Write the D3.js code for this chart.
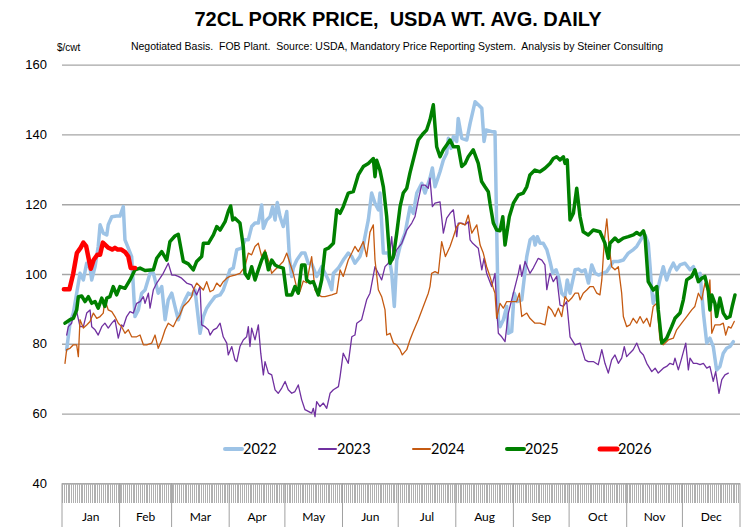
<!DOCTYPE html>
<html>
<head>
<meta charset="utf-8">
<script src="https://cdn.jsdelivr.net/npm/d3@7"></script>
<style>
  html, body { margin: 0; padding: 0; background: #fff; }
  svg { display: block; }
</style>
</head>
<body>
<div id="chart"></div>
<script>
// data: [day of year, $/cwt]
const months = ["Jan", "Feb", "Mar", "Apr", "May", "Jun", "Jul", "Aug", "Sep", "Oct", "Nov", "Dec"];
const monthStarts = [0, 31, 59, 90, 120, 151, 181, 212, 243, 273, 304, 334, 365];
const yTicks = [40, 60, 80, 100, 120, 140, 160];
const years = ["2022", "2023", "2024", "2025", "2026"];

const s2022 = [[2.5,78.3],[4.3,85.9],[6.1,88.8],[7.9,94.5],[9.7,100.2],[11.5,98.3],[13.3,103.1],[15.1,101.7],[16,98.3],[17.8,102.1],[19.5,107.9],[20.5,114.1],[22.2,111.7],[24.1,111.2],[24.9,114.1],[26.8,116.4],[29.4,116.6],[31.2,116.6],[33,119.3],[33.9,109.8],[35.7,107.4],[37.5,105],[39.3,87.8],[41.1,89.7],[42.9,94.5],[44.7,95.4],[47.4,100.2],[49.2,100.2],[50.1,98.3],[51.8,94.5],[53.7,96.4],[55.5,86.9],[57.2,92.6],[59.1,94.5],[60.8,90.7],[62.6,86.9],[64.4,90.2],[66.2,92.6],[68,94.5],[69.8,94],[71.6,95.4],[74.3,83],[76.1,87.8],[77.9,90.2],[79.7,91.6],[82.4,93.5],[85.1,94],[86.8,95.4],[88.7,98.3],[90.4,101.2],[92.2,101.7],[94.1,107],[96.8,107.4],[98.5,109.8],[100.3,109.8],[102.1,113.6],[103.9,114.6],[105.7,114.6],[107.5,119.8],[108.4,113.1],[110.2,115.5],[112,116.4],[113.4,119.3],[114.7,115.5],[115.9,120.5],[117.4,116.4],[119.1,113.6],[121,117.9],[122.4,105],[123.7,99.3],[124.5,101.7],[126.4,104],[129,106],[130.8,106],[132.6,103],[134.4,103],[137.1,99.3],[139.8,102.1],[141.6,100.2],[143.4,98.3],[145.2,95.5],[146.1,100.2],[148.8,101.7],[151.4,104],[154.1,106],[156,105],[157.7,103.1],[160.4,105],[162.2,108.3],[164.9,115.5],[166.7,123.2],[168.5,120.3],[170.3,118.4],[171.2,123.2],[173,106],[175.7,106],[177.5,100.2],[178.9,90.7],[180.2,104],[182,107.9],[184.7,111.7],[187.4,119.3],[189.1,117.4],[191,123.2],[193.7,126],[195.4,123.2],[198.1,127.5],[199.4,130.4],[200.8,125],[203.5,129.3],[205.3,132.7],[207.1,134.6],[208,138.9],[209.4,136],[210.7,139.4],[212.5,138],[213.3,144.6],[215.2,138.9],[217.9,138.4],[219.7,143.2],[222.4,149.4],[224.1,148.5],[226,147.5],[227.2,138],[228.3,141.3],[231.4,140.8],[233.1,140.8],[234,113.6],[234.9,86.9],[235.8,84.9],[237.6,86.9],[239.4,90.7],[240.3,83],[242.1,83.5],[243.4,94.5],[245.1,92.1],[247.5,92.6],[250.2,105],[252,109.8],[253.8,110.7],[254.7,108.3],[255.9,110.7],[257.4,108.8],[259.1,108.8],[261,107],[262.7,103.6],[264.2,100.2],[266,101.2],[267.2,99.3],[269,94.5],[270.8,93.5],[272,98.3],[273.5,94.5],[276.2,101.2],[278,101.4],[279.8,100.7],[281.6,101.2],[283.4,97.4],[285.2,102.6],[287,100.2],[288.8,99.7],[293.3,100.7],[296.8,103.6],[299.5,103.6],[302.2,104],[304.9,106],[307.6,107],[309.4,107.9],[312.1,110.3],[313.9,111.2],[315.6,108.8],[316.6,102.1],[317.5,95.4],[318.3,91.6],[320.2,94.5],[321.9,98.3],[323.7,102.1],[325.5,98.3],[327.3,101.2],[329.1,103.1],[330.9,101.2],[332.7,102.6],[335.4,103.1],[338.1,101.2],[339.9,102.1],[341.7,99.3],[343.5,100.2],[345.3,88.8],[347.1,80.2],[348.8,81.6],[350.6,79.2],[352.4,72.5],[354.2,73.5],[356,77.3],[357.8,78.7],[359.6,79.2],[361.4,80.6]];

const s2023 = [[2.5,82.5],[3.4,84.9],[5.2,85.9],[6.1,88.3],[7.9,89.2],[9.7,84.9],[11.5,84.9],[13.3,88.8],[15.1,89.7],[16,84.9],[17.8,84],[19.5,82.5],[21.4,84.9],[23.1,85.9],[24.9,84.5],[26.8,85.9],[28.5,86.9],[30.3,81.6],[32.1,85.4],[33,84.9],[34.8,87.8],[36.6,89.2],[38.4,88.8],[40.2,91.6],[42,92.1],[43.8,93.5],[44.7,91.6],[46.5,94.5],[47.4,90.2],[49.2,95.5],[51,97.4],[52.8,98.8],[54.5,100.2],[57.2,103.1],[59.1,99.7],[60.8,99.7],[62.6,99.3],[64.4,98.8],[67.1,97.4],[69.8,96.9],[72.5,94],[74.3,96.4],[75.2,85.4],[77,84.9],[78.8,84],[79.7,82.5],[81.5,84],[83.3,84.5],[85.1,85.9],[86.8,82],[88.7,80.2],[89.5,76.8],[91.4,79.2],[93.1,75.4],[94.1,74.9],[95.8,79.2],[97.6,81.1],[99.4,82],[100.3,84.9],[101.2,79.2],[102.1,84.5],[103.9,81.1],[105.7,85.4],[107,77.3],[108.4,71.1],[109.3,74.9],[111.1,71.6],[112.9,71.1],[114.7,66.8],[116.4,65.8],[118.3,67.3],[120.1,69.2],[121.8,66.8],[123.7,65.8],[125.4,66.3],[127.2,68.2],[129,64],[130.8,61.1],[132.6,60.6],[134.4,60.1],[135.3,61.5],[136.2,59.1],[137.1,63.4],[138.9,62],[140.7,63],[142.5,61.5],[144.3,65.8],[146.1,66.8],[148.8,67.7],[149.7,70.6],[151.4,77.3],[154.1,74.4],[156,82],[157.7,82.5],[158.7,85.9],[161.3,86.9],[164,92.6],[165.8,94.5],[168.5,102.1],[170.3,100.2],[172.1,98.3],[173.9,102.1],[175.7,103.1],[177.5,110.7],[178.4,104],[180.2,107],[182.9,108.8],[185.6,112.6],[188.3,114.6],[190,116.4],[191.8,121.2],[193.6,125.5],[195.4,125.5],[197.2,124.6],[198.1,127.5],[199.4,119.3],[200.8,120.3],[203.5,120.7],[205.3,111.7],[207.1,116],[208.9,117.4],[210.7,118.4],[212.5,110.7],[213.3,114.6],[215.2,114.6],[217,114.1],[218.7,115],[219.7,109.8],[221.1,108.8],[224.1,107.4],[226,101.2],[227.2,104.5],[228.6,100.2],[231.3,96.4],[233.1,100.2],[234,90.7],[234.9,83],[236.7,82],[238.5,80.6],[240.3,88.8],[243,94.5],[245.7,100.2],[246.6,102.6],[247.5,99.3],[249.3,103.6],[251.9,100.2],[253.7,101.7],[256.4,104.5],[258.3,104],[260,102.6],[261,95.5],[262.7,100.2],[264.5,97.8],[266.3,99.3],[268.1,91.1],[269.9,90.7],[271.7,92.1],[273.5,82],[276.2,79.7],[278.9,80.2],[281.6,75.4],[283.3,74.9],[286,74.9],[288.7,74],[290.6,78.3],[292.3,74.4],[294.1,71.6],[295.9,75.4],[297.7,76.8],[299.5,74.4],[301.3,75.9],[302.7,79.2],[304,76.3],[305.7,77.3],[307.5,78.3],[309.4,80.2],[311.2,77.8],[313,76.8],[314.8,74.4],[317.5,72],[319.3,73],[321,71.6],[323.7,73],[325.5,73.5],[327.3,74.4],[329.1,74],[330,75.9],[331.8,72.5],[333.6,75.9],[335.8,80.2],[337.2,72.5],[338.1,75.9],[339.9,74.4],[341.7,74.4],[343.5,74],[345.3,74.4],[347.1,73],[348.8,73.5],[350.6,69.2],[351.9,72],[353.7,65.8],[355.2,69.7],[356.9,71.1],[358.7,71.6]];

const s2024 = [[1.6,74.4],[2.5,78.3],[4.3,78.7],[6.1,79.7],[7.9,79.7],[8.8,76.3],[9.7,86.9],[11.5,84.5],[13.3,85.4],[15.1,86.4],[16.9,88.8],[18.7,87.3],[20.5,87.8],[22.2,88.8],[23.1,92.6],[24.9,89.7],[26.8,89.2],[28.5,87.8],[30.3,85.9],[32.1,84.9],[33.9,83],[35.7,84],[37.5,82],[40.2,82],[42,82.5],[43.8,79.7],[45.6,79.7],[48.3,80.2],[50.1,82.5],[51.8,78.7],[53.7,81.1],[55.5,84],[57.2,85.9],[59.9,84.9],[61.7,86.9],[63.5,88.3],[65.3,90.7],[68,92.1],[69.8,93.5],[70.7,95.4],[72.5,97.4],[74.3,96.4],[76.1,95.4],[77.9,97.8],[79.7,94.9],[81.5,95.4],[83.3,97.4],[85.1,96.4],[86.8,97.8],[88.7,98.8],[90.4,99.3],[93.1,99.7],[95.8,100.2],[98.5,102.1],[100.3,106],[102.1,105.5],[103.9,107.9],[105.7,108.8],[107.5,105],[109.3,106.9],[111.1,104],[112.9,100.2],[114.7,101.2],[116.4,102.1],[119.1,103.6],[121,106],[122.7,103.1],[124.5,100.2],[126.4,96],[128.1,95],[129.9,98],[131.7,97.5],[134.4,105],[136.2,95.4],[138,94],[139.8,93.5],[141.6,93.5],[145.2,94],[147.9,94.5],[149.7,101.2],[151.4,99.3],[154.1,104],[156,106],[157.7,107.9],[159.5,106.4],[162.2,109.3],[164,105],[165.8,112],[167.6,114.1],[168.5,104],[170.3,95.5],[172.1,93.5],[173.9,89.7],[174.8,82.5],[176.6,83],[178.4,80.2],[180.2,79.7],[182,78.3],[183.2,76.8],[185.6,78.3],[187.3,81.1],[189.1,83.5],[191.8,86.9],[194.5,90.7],[197.2,94.5],[198.1,96.4],[199,100.2],[200.8,100.7],[202.6,100.2],[204.4,109.3],[206.4,105],[208.9,107.9],[210.7,110.7],[212.5,113.6],[214.3,114.6],[217,114.1],[218.7,116.9],[220.6,111.7],[223.3,114.1],[225.1,108.3],[226.8,106],[228.6,102.1],[230.4,99.3],[232.2,95.9],[233.1,94.5],[234,87.3],[235.8,91.6],[237.6,90.2],[239.4,92.1],[242.1,92.1],[244.8,92.1],[246.2,94.5],[247.5,87.8],[250.2,88.8],[251.9,87.3],[254.6,85.9],[257.3,85.9],[260,85.4],[261.8,90.7],[263.6,89.7],[265.4,87.8],[267.2,90.2],[269,87.8],[270.8,93.5],[272.6,92.1],[274.4,93.1],[276.2,94.5],[278,94.5],[278.9,92.6],[280.6,94.5],[282.5,95.4],[284.3,96.4],[286,96.4],[287.9,94.5],[289.6,94],[290.6,98.3],[292,109.8],[293.3,115.8],[294.5,108.3],[295.9,102.1],[297.7,101.2],[299.5,102.1],[301.3,94.5],[302.2,87.8],[304,84.9],[305.7,85.4],[307.5,87.3],[309.4,85.9],[311.2,87.8],[313,85.9],[314.8,87.3],[316.6,84.9],[318.3,90.7],[320.2,91.6],[321.9,81.1],[323.7,79.7],[326.4,81.1],[329.1,81.6],[330.9,84],[333.6,85.9],[336.3,87.8],[339,89.7],[340.7,90.7],[342.6,94.5],[344.4,92.6],[346.1,97.4],[347.9,94.5],[348.8,98.3],[349.8,83],[351.5,85.4],[354.2,85.4],[356,85.9],[357.3,82.5],[358.7,84.9],[360.2,84.5],[361.9,86.4]];

const s2025 = [[1.6,85.9],[4.3,86.9],[6.1,87.3],[7.9,89.7],[8.8,93.5],[10.6,93.7],[12.4,92.1],[14.2,93.5],[16,91.6],[17.8,92.1],[19.5,90.2],[21.4,93.1],[23.1,90.7],[24.1,93.1],[25.8,93.5],[27.6,96.4],[29.4,94],[31.2,96.4],[33.9,95.9],[36.6,98.3],[39.3,101.2],[42,101.7],[44.7,101],[49.2,101.2],[51,104.5],[53.7,106.4],[56.4,104],[58.1,109.3],[60.8,110.9],[62.6,111.4],[63.5,108.8],[65.3,103.6],[68,102.9],[70.7,101.2],[72.5,103.6],[75.2,105],[76.1,108.8],[78.8,108.8],[81.5,111.2],[83.3,113.6],[85.1,112.6],[87.8,115],[89.5,117.9],[90.8,119.5],[91.9,115.5],[93.1,116],[95.8,114.6],[97.6,107.9],[98.5,100.2],[100.3,98.8],[102.1,102.1],[103.9,98.3],[105.7,101.2],[107.5,104],[109.3,106],[111.1,101.2],[112.9,104],[114.7,102.6],[116.4,102.1],[119.1,101.7],[121,94],[123.7,94],[125.4,96.4],[127.2,94.5],[129,102.6],[130.8,102.6],[131.7,98.3],[133.5,97.5],[135.3,97.8],[138,94],[139.8,98.3],[141.6,107],[143.4,107.4],[146.1,108.8],[147.9,118.4],[149.7,117.4],[151.4,119.3],[154.1,123.2],[156.8,123.6],[159.5,128.4],[162.2,130.8],[164.9,131.7],[167.6,133.1],[168.5,127.9],[169.4,132.6],[171.2,129.7],[173,125],[174.8,116.4],[176.6,103.1],[178.4,105],[180.2,111.7],[182,119.3],[183.7,123.2],[185.6,124.6],[187.3,128.9],[189.1,132.7],[191.8,138.4],[194.5,140.3],[196.3,141.3],[198.1,144.2],[199.9,148.5],[201.7,136.5],[203.5,133.6],[205.3,135.6],[207.1,137],[208.9,138.4],[210.7,136.5],[213.3,136.5],[215.2,130.8],[217,131.7],[218.7,133.6],[221.4,135.6],[224.1,131.7],[225.9,126.5],[227.7,125],[229.5,123.6],[230.4,120.3],[232.2,114.6],[234,112.6],[235.8,112.4],[237.3,116.4],[238.5,108.3],[240.8,116.4],[243,120.3],[245.7,122.7],[248.3,123.2],[250.2,125],[251.9,128.4],[254.6,129.8],[257.3,129.3],[260,130.3],[262.7,131.7],[264.5,133.1],[266.3,133.6],[268.1,132.7],[269.9,133.6],[270.8,131.7],[272,132.7],[273.5,115.5],[275.3,117.4],[277.1,124.6],[278.9,116.4],[280.6,112.1],[283.3,111.2],[286,112.6],[289.6,112.1],[292.3,108.8],[294.1,104.5],[295,108.8],[297.7,110.3],[299.5,109.3],[302.2,110.3],[304.9,110.7],[307.6,111.2],[309.4,111.9],[311.2,111.2],[313,112.4],[313.9,110.7],[315.6,97.8],[318.3,95.4],[320.2,96.4],[321,89.7],[322.9,80.2],[325.5,81.6],[328.2,84.9],[330,87.3],[332.7,88.8],[334.5,92.6],[336.3,98.3],[339,99.3],[340.7,101.2],[342.6,97.8],[344.4,98.8],[346.1,99.3],[347.9,95.4],[348.8,89.7],[349.8,94],[351.5,91.6],[352.4,87.8],[354.2,93.1],[356,88.8],[357.8,87.3],[359.6,87.8],[360.8,90.7],[362.3,94]];

const s2026 = [[1,95.6],[4,95.6],[6,100],[8,106],[10,107.5],[11.5,109],[13,108],[14.5,104],[15.5,101.5],[17,104],[19,105.5],[20.5,105.5],[22,109],[24,108],[25,107.5],[27,107],[28.5,107.5],[30,107],[32,107],[34,106.3],[35.7,105],[37,101.7],[39.3,101.7]];

const seriesData = [s2022, s2023, s2024, s2025, s2026];
const colors = ["#9DC3E6", "#7030A0", "#C55A11", "#008000", "#FF0000"];
const widths = [3.5, 1.3, 1.3, 3.5, 4.5];
const legendWidths = [4, 2, 2, 4, 5];

const W = 743, H = 527;
const plot = { left: 62, right: 740, top: 64.7, bottom: 483.3 };
const narrow = "'Liberation Sans Narrow', 'Arial Narrow', 'Liberation Sans', sans-serif";

const svg = d3.select("#chart").append("svg")
    .attr("width", W)
    .attr("height", H);

const x = d3.scaleLinear().domain([0, 365]).range([plot.left, plot.right]);
const y = d3.scaleLinear().domain([40, 160]).range([plot.bottom, plot.top]);

// title
svg.append("text")
    .attr("x", 398)
    .attr("y", 26)
    .attr("text-anchor", "middle")
    .style("font-family", narrow)
    .style("font-weight", "bold")
    .style("font-size", "20px")
    .style("white-space", "pre")
    .text("72CL PORK PRICE,  USDA WT. AVG. DAILY");

svg.append("text")
    .attr("x", 397)
    .attr("y", 50)
    .attr("text-anchor", "middle")
    .style("font-family", narrow)
    .style("font-size", "10.5px")
    .style("white-space", "pre")
    .text("Negotiated Basis.  FOB Plant.  Source: USDA, Mandatory Price Reporting System.  Analysis by Steiner Consulting");

svg.append("text")
    .attr("x", 57)
    .attr("y", 51)
    .style("font-family", narrow)
    .style("font-size", "10px")
    .text("$/cwt");

// gridlines + y labels
const yAxis = d3.axisLeft(y).tickValues(yTicks).tickSize(-(plot.right - plot.left)).tickFormat(d3.format("d"));
const gy = svg.append("g")
    .attr("transform", `translate(${plot.left},0)`)
    .call(yAxis);
gy.select(".domain").remove();
gy.selectAll(".tick line")
    .attr("stroke", d => d === 40 ? "#8c8c8c" : "#a6a6a6")
    .attr("stroke-width", 1.3);
gy.selectAll(".tick text")
    .attr("x", -15)
    .style("font-family", "'Liberation Sans', Arial, sans-serif")
    .style("font-size", "13px")
    .attr("fill", "#000");

// date band: daily ticks
const days = d3.range(0, 365);
svg.append("g")
    .selectAll("line")
    .data(days)
    .join("line")
    .attr("x1", d => Math.round(x(d)) + 0.5)
    .attr("x2", d => Math.round(x(d)) + 0.5)
    .attr("y1", plot.bottom)
    .attr("y2", 503)
    .attr("stroke", "#b0b0b0")
    .attr("stroke-width", 1);

// month boundaries
svg.append("g")
    .selectAll("line")
    .data(monthStarts)
    .join("line")
    .attr("x1", d => x(d))
    .attr("x2", d => x(d))
    .attr("y1", plot.bottom)
    .attr("y2", H)
    .attr("stroke", "#a0a0a0")
    .attr("stroke-width", 1);

svg.append("g")
    .selectAll("text")
    .data(months)
    .join("text")
    .attr("x", (d, i) => x((monthStarts[i] + monthStarts[i + 1]) / 2))
    .attr("y", 521)
    .attr("text-anchor", "middle")
    .style("font-family", "Lato, 'Open Sans', sans-serif")
    .style("font-size", "12px")
    .text(d => d);

// series lines
const line = d3.line()
    .x(d => x(d[0]))
    .y(d => y(d[1]))
    .curve(d3.curveLinear);

seriesData.forEach((data, i) => {
    svg.append("path")
        .datum(data)
        .attr("d", line)
        .attr("fill", "none")
        .attr("stroke", colors[i])
        .attr("stroke-width", widths[i])
        .attr("stroke-linejoin", "round")
        .attr("stroke-linecap", "round");
});

// legend
const legendX = [225, 319, 413, 507, 600];
years.forEach((yr, i) => {
    svg.append("line")
        .attr("x1", legendX[i])
        .attr("x2", legendX[i] + 17)
        .attr("y1", 449)
        .attr("y2", 449)
        .attr("stroke", colors[i])
        .attr("stroke-width", legendWidths[i])
        .attr("stroke-linecap", "round");

    svg.append("text")
        .attr("x", legendX[i] + 18)
        .attr("y", 454)
        .style("font-family", "Lato, 'Open Sans', sans-serif")
        .style("font-size", "14.5px")
        .text(yr);
});
</script>
</body>
</html>
